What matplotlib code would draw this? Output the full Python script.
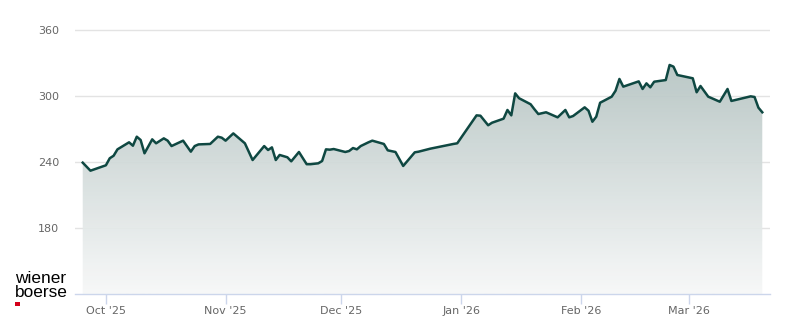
import matplotlib
matplotlib.use("Agg")
import matplotlib.pyplot as plt
import matplotlib.dates as mdates
import numpy as np
import pandas as pd
from matplotlib.colors import LinearSegmentedColormap
from matplotlib.patches import PathPatch, Rectangle

# Kursverlauf
dates = [
    "2025-09-25", "2025-09-27", "2025-10-01", "2025-10-02", "2025-10-03", "2025-10-04",
    "2025-10-07", "2025-10-08", "2025-10-09", "2025-10-10", "2025-10-11", "2025-10-13",
    "2025-10-14", "2025-10-16", "2025-10-17", "2025-10-18", "2025-10-21", "2025-10-23",
    "2025-10-24", "2025-10-25", "2025-10-28", "2025-10-30", "2025-10-31", "2025-11-01",
    "2025-11-03", "2025-11-06", "2025-11-08", "2025-11-11", "2025-11-12", "2025-11-13",
    "2025-11-14", "2025-11-15", "2025-11-17", "2025-11-18", "2025-11-20", "2025-11-22",
    "2025-11-23", "2025-11-25", "2025-11-26", "2025-11-27", "2025-11-28", "2025-11-29",
    "2025-12-02", "2025-12-03", "2025-12-04", "2025-12-05", "2025-12-06", "2025-12-08",
    "2025-12-09", "2025-12-12", "2025-12-13", "2025-12-15", "2025-12-17", "2025-12-20",
    "2025-12-21", "2025-12-22", "2025-12-24", "2025-12-30", "2025-12-31", "2026-01-05",
    "2026-01-06", "2026-01-08", "2026-01-09", "2026-01-12", "2026-01-13", "2026-01-14",
    "2026-01-15", "2026-01-16", "2026-01-19", "2026-01-20", "2026-01-21", "2026-01-23",
    "2026-01-26", "2026-01-28", "2026-01-29", "2026-01-30", "2026-02-02", "2026-02-03",
    "2026-02-04", "2026-02-05", "2026-02-06", "2026-02-07", "2026-02-09", "2026-02-10",
    "2026-02-11", "2026-02-12", "2026-02-16", "2026-02-17", "2026-02-18", "2026-02-19",
    "2026-02-20", "2026-02-23", "2026-02-24", "2026-02-25", "2026-02-26", "2026-03-02",
    "2026-03-03", "2026-03-04", "2026-03-06", "2026-03-09", "2026-03-11", "2026-03-12",
    "2026-03-17", "2026-03-18", "2026-03-19", "2026-03-20",
]
prices = [
    239.4, 232.1, 237.0, 243.4, 245.7, 251.5, 257.9, 254.8, 263.0, 260.0,
    247.9, 260.6, 257.0, 261.5, 259.4, 254.5, 259.4, 249.4, 254.5, 256.0,
    256.4, 263.0, 262.1, 259.4, 266.0, 257.0, 241.8, 254.5, 250.9, 253.3,
    241.8, 246.4, 244.3, 240.6, 249.1, 238.0, 238.0, 238.8, 240.9, 251.5,
    251.2, 251.8, 249.1, 250.0, 252.7, 251.5, 254.5, 257.9, 259.4, 256.4,
    250.6, 249.1, 236.4, 248.8, 249.4, 250.3, 252.1, 256.4, 257.0, 282.4,
    282.1, 273.4, 275.7, 279.4, 287.3, 282.4, 302.4, 298.0, 292.5, 287.9,
    283.6, 285.2, 280.6, 287.3, 280.6, 281.8, 289.7, 286.6, 276.6, 281.2,
    293.9, 295.7, 299.4, 304.8, 315.5, 308.5, 313.3, 306.4, 311.5, 307.9,
    313.0, 314.5, 328.2, 326.7, 319.1, 316.1, 303.4, 309.1, 299.4, 294.8,
    306.4, 295.5, 299.7, 299.1, 289.4, 285.2,
]
y_ticks = [180, 240, 300, 360]

x = mdates.date2num(pd.to_datetime(dates))
y = np.array(prices)
y_min, y_max = 120, 378
x_min = mdates.date2num(pd.Timestamp("2025-10-01")) - 8.0
x_max = mdates.date2num(pd.Timestamp("2025-10-01")) + 172.0

fig = plt.figure(figsize=(8, 3.24), dpi=100)
ax = fig.add_axes([0.09375, 0.0926, 0.86875, 0.8759])

# Gitter hinter der Fläche
ax.yaxis.grid(True, color="#e3e3e3", linewidth=1.0)
ax.set_axisbelow(True)

# Verlaufsfläche unter der Linie
poly = ax.fill_between(x, y, y_min, color="none", linewidth=0)
patch = PathPatch(poly.get_paths()[0], transform=ax.transData,
                  facecolor="none", edgecolor="none")
ax.add_patch(patch)
cmap = LinearSegmentedColormap.from_list("area", ["#a6b8b6", "#f7f8f8"])
grad = np.linspace(0, 1, 256).reshape(-1, 1)
im = ax.imshow(grad, cmap=cmap, aspect="auto", origin="upper", alpha=0.93,
               extent=[x_min, x_max, y_min, y_max], zorder=1)
im.set_clip_path(patch)

ax.plot(x, y, color="#0f4842", linewidth=1.8, solid_joinstyle="round", zorder=4)

ax.set_xlim(x_min, x_max)
ax.set_ylim(y_min, y_max)
ax.set_yticks(y_ticks)

ax.xaxis.set_major_locator(mdates.MonthLocator())
ax.xaxis.set_major_formatter(mdates.DateFormatter("%b '%y"))

for side in ["top", "right", "left"]:
    ax.spines[side].set_visible(False)
ax.spines["bottom"].set_color("#ccd6eb")
ax.spines["bottom"].set_linewidth(1.0)
ax.spines["bottom"].set_zorder(5)

ax.tick_params(axis="y", length=0, pad=11.5, labelsize=8, labelcolor="#666666")
ax.tick_params(axis="x", length=7, width=1, color="#ccd6eb", pad=1.5,
               labelsize=8, labelcolor="#666666")

# Logo
fig.text(15 / 800, 1 - 283 / 324, "wiener", fontsize=12.4, family="Liberation Sans",
         color="#000000", va="baseline", ha="left")
fig.text(15 / 800, 1 - 297 / 324, "boerse", fontsize=12.4, family="Liberation Sans",
         color="#000000", va="baseline", ha="left")
fig.patches.append(Rectangle((15 / 800, 1 - 306 / 324), 4.5 / 800, 4.5 / 324,
                             transform=fig.transFigure, facecolor="#d4001a",
                             edgecolor="none"))

fig.savefig("out.png", dpi=100)
